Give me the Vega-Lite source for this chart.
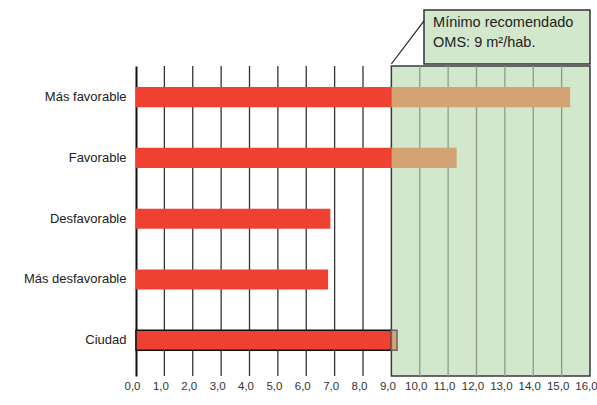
{
  "$schema": "https://vega.github.io/schema/vega-lite/v6.json",
  "padding": {"left": 23, "top": 9, "right": 0, "bottom": 5},
  "spacing": 0,
  "config": {
    "view": {"stroke": null},
    "font": "Liberation Sans, sans-serif"
  },
  "datasets": {
    "bars": [
      {"cat": "Más favorable", "part": "base", "x0": 0, "x1": 9},
      {"cat": "Más favorable", "part": "extra", "x0": 9, "x1": 15.3},
      {"cat": "Favorable", "part": "base", "x0": 0, "x1": 9},
      {"cat": "Favorable", "part": "extra", "x0": 9, "x1": 11.3},
      {"cat": "Desfavorable", "part": "base", "x0": 0, "x1": 6.85},
      {"cat": "Más desfavorable", "part": "base", "x0": 0, "x1": 6.77},
      {"cat": "Ciudad", "part": "base", "x0": 0, "x1": 9},
      {"cat": "Ciudad", "part": "extra", "x0": 9, "x1": 9.2}
    ],
    "grid": [
      {"g": 1}, {"g": 2}, {"g": 3}, {"g": 4}, {"g": 5}, {"g": 6}, {"g": 7}, {"g": 8},
      {"g": 10}, {"g": 11}, {"g": 12}, {"g": 13}, {"g": 14}, {"g": 15}
    ],
    "zone": [{"x0": 9, "x1": 16}],
    "note": [{"label": ["Mínimo recomendado", "OMS: 9 m²/hab."]}]
  },
  "vconcat": [
    {
      "width": 454,
      "height": 54,
      "data": {"name": "note"},
      "layer": [
        {
          "mark": {"type": "rect", "fill": "#D2E7CC", "stroke": "#333333", "strokeWidth": 1.5},
          "encoding": {
            "x": {"datum": 10.15, "type": "quantitative", "scale": {"domain": [0, 16], "nice": false, "zero": true}, "axis": null},
            "x2": {"datum": 16},
            "y": {"datum": 0, "type": "quantitative", "scale": {"domain": [0, 1], "nice": false}, "axis": null},
            "y2": {"datum": 1}
          }
        },
        {
          "mark": {"type": "rule", "color": "#222222", "strokeWidth": 1.2},
          "encoding": {
            "x": {"datum": 10.15, "type": "quantitative", "axis": null},
            "x2": {"datum": 9},
            "y": {"datum": 0.8, "type": "quantitative", "axis": null},
            "y2": {"datum": 0}
          }
        },
        {
          "mark": {"type": "text", "align": "left", "baseline": "middle", "fontSize": 14.5, "lineHeight": 20, "color": "#222222"},
          "encoding": {
            "x": {"datum": 10.47, "type": "quantitative", "axis": null},
            "y": {"datum": 0.76, "type": "quantitative", "axis": null},
            "text": {"field": "label"}
          }
        }
      ]
    },
    {
      "width": 454,
      "height": 310,
      "layer": [
        {
          "data": {"name": "zone"},
          "mark": {"type": "rect", "fill": "#D2E7CC", "stroke": "#3a3a3a", "strokeWidth": 1.5},
          "encoding": {
            "x": {"field": "x0", "type": "quantitative", "scale": {"domain": [0, 16], "nice": false}, "axis": {
              "values": [0,1,2,3,4,5,6,7,8,9,10,11,12,13,14,15,16],
              "labelExpr": "replace(format(datum.value, '.1f'), '.', ',')",
              "labelOverlap": false, "labelFlush": false, "labelFontSize": 11.5, "labelOffset": -4, "labelColor": "#333333", "labelPadding": 4, "domain": false, "ticks": false, "grid": false, "title": null
            }},
            "x2": {"field": "x1"}
          }
        },
        {
          "data": {"name": "grid"},
          "mark": {"type": "rule", "strokeWidth": 1.3},
          "encoding": {
            "x": {"field": "g", "type": "quantitative", "axis": {
              "values": [0,1,2,3,4,5,6,7,8,9,10,11,12,13,14,15,16],
              "labelExpr": "replace(format(datum.value, '.1f'), '.', ',')",
              "labelOverlap": false, "labelFlush": false, "labelFontSize": 11.5, "labelOffset": -4, "labelColor": "#333333", "labelPadding": 4, "domain": false, "ticks": false, "grid": false, "title": null
            }},
            "color": {"condition": {"test": "datum.g > 9", "value": "#8c9c89"}, "value": "#333333"}
          }
        },
        {
          "data": {"name": "bars"},
          "mark": {"type": "bar", "strokeWidth": 1.5},
          "encoding": {
            "y": {"field": "cat", "type": "nominal",
              "sort": ["Más favorable", "Favorable", "Desfavorable", "Más desfavorable", "Ciudad"],
              "scale": {"paddingInner": 0.67, "paddingOuter": 0.386, "align": 0.45},
              "axis": {"title": null, "ticks": false, "domain": true, "domainColor": "#111111", "domainWidth": 2,
                "labelFontSize": 13, "labelColor": "#222222", "labelPadding": 10}
            },
            "x": {"field": "x0", "type": "quantitative", "axis": {
              "values": [0,1,2,3,4,5,6,7,8,9,10,11,12,13,14,15,16],
              "labelExpr": "replace(format(datum.value, '.1f'), '.', ',')",
              "labelOverlap": false, "labelFlush": false, "labelFontSize": 11.5, "labelOffset": -4, "labelColor": "#333333", "labelPadding": 4, "domain": false, "ticks": false, "grid": false, "title": null
            }},
            "x2": {"field": "x1"},
            "fill": {"field": "part", "type": "nominal", "scale": {"domain": ["base", "extra"], "range": ["#EE4131", "#D4A373"]}, "legend": null},
            "stroke": {"condition": [
              {"test": "datum.cat == 'Ciudad' && datum.part == 'base'", "value": "#111111"},
              {"test": "datum.cat == 'Ciudad' && datum.part == 'extra'", "value": "#666666"}
            ], "value": null}
          }
        }
      ]
    }
  ]
}
